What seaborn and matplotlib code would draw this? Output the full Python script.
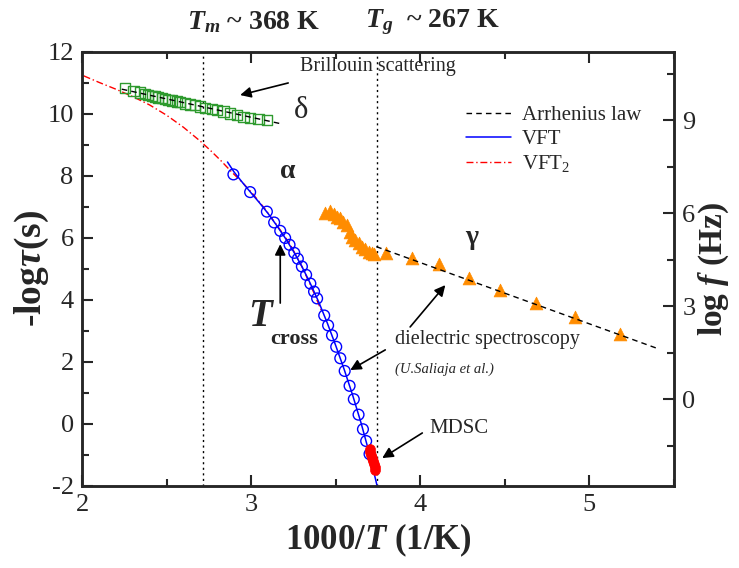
import numpy as np
import matplotlib
matplotlib.use("Agg")
import matplotlib.pyplot as plt
import seaborn as sns
from matplotlib.ticker import MultipleLocator
from matplotlib.lines import Line2D

# ---------------- data ----------------
# Brillouin scattering (delta relaxation), open green squares
delta_x = [2.254, 2.304, 2.343, 2.373, 2.392, 2.412, 2.432, 2.451, 2.471, 2.491,
           2.511, 2.530, 2.560, 2.580, 2.609, 2.639, 2.668, 2.698, 2.728, 2.767,
           2.797, 2.836, 2.876, 2.915, 2.955, 2.994, 3.043, 3.093]
delta_y = [10.83, 10.75, 10.69, 10.645, 10.61, 10.59, 10.56, 10.53, 10.51, 10.48,
           10.45, 10.43, 10.40, 10.38, 10.34, 10.31, 10.28, 10.24, 10.20, 10.16,
           10.13, 10.08, 10.02, 9.97, 9.91, 9.88, 9.84, 9.80]

# Dielectric spectroscopy alpha relaxation, open blue circles
alpha_x = [2.895, 2.994, 3.093, 3.136, 3.172, 3.201, 3.227, 3.255, 3.276, 3.300,
           3.325, 3.350, 3.372, 3.390, 3.432, 3.455, 3.478, 3.503, 3.527, 3.553,
           3.582, 3.607, 3.635, 3.661, 3.680, 3.700]
alpha_y = [8.05, 7.48, 6.85, 6.50, 6.23, 6.00, 5.78, 5.52, 5.33, 5.08,
           4.81, 4.53, 4.27, 4.05, 3.50, 3.18, 2.86, 2.49, 2.12, 1.71,
           1.23, 0.80, 0.30, -0.17, -0.55, -0.97]

# MDSC points, filled red circles
mdsc_x = [3.700, 3.705, 3.710, 3.715, 3.720, 3.725, 3.730, 3.735]
mdsc_y = [-0.80, -0.90, -1.00, -1.10, -1.20, -1.30, -1.40, -1.50]

# gamma relaxation, filled orange triangles
gamma_x = [3.438, 3.467, 3.487, 3.507, 3.527, 3.546, 3.566, 3.586, 3.596, 3.615,
           3.635, 3.655, 3.675, 3.694, 3.714, 3.728, 3.799, 3.950, 4.108, 4.290,
           4.473, 4.686, 4.917, 5.178]
gamma_y = [6.80, 6.86, 6.78, 6.69, 6.63, 6.53, 6.42, 6.20, 6.04, 5.95,
           5.83, 5.72, 5.63, 5.56, 5.50, 5.48, 5.50, 5.34, 5.16, 4.70,
           4.32, 3.90, 3.46, 2.90]

# fitted curves
vft_x = [2.86, 2.90, 2.95, 3.00, 3.05, 3.10, 3.15, 3.20, 3.25, 3.30, 3.35,
         3.40, 3.45, 3.50, 3.55, 3.60, 3.65, 3.70, 3.744]
vft_y = [8.45, 8.12, 7.78, 7.45, 7.13, 6.79, 6.41, 6.01, 5.57, 5.08, 4.53,
         3.93, 3.26, 2.53, 1.76, 0.93, 0.03, -0.97, -1.98]

vft2_x = [2.01, 2.10, 2.20, 2.30, 2.40, 2.50, 2.60, 2.70, 2.76, 2.82, 2.89,
          2.95, 3.01, 3.08, 3.16, 3.23, 3.30, 3.36, 3.42]
vft2_y = [11.23, 11.02, 10.80, 10.56, 10.29, 9.96, 9.57, 9.12, 8.82, 8.50, 8.10,
          7.78, 7.42, 6.95, 6.35, 5.80, 5.08, 4.37, 3.60]

arr_delta_x = [2.235, 3.18]
arr_delta_y = [10.80, 9.68]
arr_gamma_x = [3.74, 5.41]
arr_gamma_y = [5.72, 2.42]

Tm_x = 1000 / 368
Tg_x = 1000 / 267

legend_labels = ["Arrhenius law", "VFT", "VFT$_{2}$"]

# ---------------- style ----------------
sns.set_theme(style="ticks")
plt.rcParams['font.family'] = ['Liberation Serif', 'DejaVu Serif']
plt.rcParams['mathtext.fontset'] = 'custom'
plt.rcParams['mathtext.rm'] = 'Liberation Serif'
plt.rcParams['mathtext.it'] = 'Liberation Serif:italic'
plt.rcParams['mathtext.bf'] = 'Liberation Serif:bold'
plt.rcParams['mathtext.bfit'] = 'Liberation Serif:italic:bold'
plt.rcParams['axes.unicode_minus'] = False

fig = plt.figure(figsize=(7.39, 5.68), dpi=100)
ax = fig.add_axes([0.111, 0.1444, 0.801, 0.7641])

dash_a = (0, (4, 3))
dashdot = (0, (5, 2, 1, 2))

# vertical dotted lines
ax.axvline(Tm_x, color='black', lw=1, ls=(0, (1.5, 2.5)), zorder=1)
ax.axvline(Tg_x, color='black', lw=1, ls=(0, (1.5, 2.5)), zorder=1)

# fitted lines
sns.lineplot(x=vft2_x, y=vft2_y, ax=ax, color='red', lw=1, linestyle=dashdot,
             sort=False, estimator=None, zorder=2)
sns.lineplot(x=vft_x, y=vft_y, ax=ax, color='blue', lw=1.1,
             sort=False, estimator=None, zorder=2)

# data markers
sns.scatterplot(x=alpha_x, y=alpha_y, ax=ax, marker='o', s=60, color='blue',
                facecolor='none', edgecolor='blue', linewidth=1.0, zorder=3)
sns.scatterplot(x=mdsc_x, y=mdsc_y, ax=ax, marker='o', s=50, color='red',
                edgecolor='red', linewidth=0.5, zorder=3)
sns.scatterplot(x=delta_x, y=delta_y, ax=ax, marker='s', s=55, color='#2ca02c',
                facecolor='none', edgecolor='#2e9a2e', linewidth=1.0, zorder=3)
sns.scatterplot(x=gamma_x, y=gamma_y, ax=ax, marker='^', s=85, color='#ff8c00',
                edgecolor='#ff8c00', linewidth=0.5, zorder=3)

# Arrhenius lines
sns.lineplot(x=arr_delta_x, y=arr_delta_y, ax=ax, color='black', lw=1, linestyle=dash_a,
             sort=False, estimator=None, zorder=4)
sns.lineplot(x=arr_gamma_x, y=arr_gamma_y, ax=ax, color='black', lw=1, linestyle=dash_a,
             sort=False, estimator=None, zorder=4)

ax.set_xlim(2, 5.5)
ax.set_ylim(-2, 12)
ax.xaxis.set_major_locator(MultipleLocator(1))
ax.xaxis.set_minor_locator(MultipleLocator(0.5))
ax.yaxis.set_major_locator(MultipleLocator(2))
ax.yaxis.set_minor_locator(MultipleLocator(1))
ax.tick_params(which='both', direction='in', top=True, right=False, width=1.5)
ax.tick_params(which='major', length=8, labelsize=19, pad=6)
ax.tick_params(which='minor', length=5)
for sp in ax.spines.values():
    sp.set_linewidth(1.8)
    sp.set_visible(True)

ax.set_xlabel(r'1000/$\mathbfit{T}$ (1/K)', fontsize=25, fontweight='bold', labelpad=4)
ax.set_ylabel(r'-log$\mathbfit{\tau}$(s)', fontsize=27, fontweight='bold', labelpad=-3)

# right axis: log f = -log tau - log(2 pi)
ax2 = ax.twinx()
off = np.log10(2 * np.pi)
ax2.set_ylim(-2 - off, 12 - off)
ax2.yaxis.set_major_locator(MultipleLocator(3))
ax2.yaxis.set_minor_locator(MultipleLocator(1.5))
ax2.tick_params(which='both', direction='in', width=1.5)
ax2.tick_params(which='major', length=8, labelsize=19, pad=6)
ax2.tick_params(which='minor', length=5)
for sp in ax2.spines.values():
    sp.set_linewidth(1.8)
ax2.set_ylabel(r'log $\mathbfit{f}$ (Hz)', fontsize=24, fontweight='bold', labelpad=1)

# legend
handles = [Line2D([], [], color='black', lw=1, ls=dash_a),
           Line2D([], [], color='blue', lw=1.1),
           Line2D([], [], color='red', lw=1, ls=dashdot)]
ax.legend(handles, legend_labels, loc='upper left', bbox_to_anchor=(0.634, 0.895),
          frameon=False, fontsize=15, handlelength=2.2, labelspacing=0.2,
          handletextpad=0.5, borderaxespad=0)

# annotations
ax.text(3.012, 12.97, r'$\mathbfit{T}_{\mathbfit{m}}$ ~ 368 K', fontsize=20, fontweight='bold',
        ha='center', va='center', clip_on=False)
ax.text(4.07, 12.97, r'$\mathbfit{T}_{\mathbfit{g}}$  ~ 267 K', fontsize=20, fontweight='bold',
        ha='center', va='center', clip_on=False)
ax.text(3.75, 11.52, 'Brillouin scattering', fontsize=14.5, ha='center', va='center')
ax.text(3.29, 10.10, r'$\mathregular{\delta}$', fontsize=22, ha='center', va='center')
ax.text(3.213, 8.13, r'$\mathbf{\alpha}$', fontsize=20, ha='center', va='center')
ax.text(4.31, 5.94, r'$\mathbf{\gamma}$', fontsize=20, ha='center', va='center')
ax.text(3.059, 3.48, r'$\mathbfit{T}$', fontsize=28, ha='center', va='center')
ax.text(3.254, 2.74, 'cross', fontsize=16, fontweight='bold', ha='center', va='center')
ax.text(4.40, 2.71, 'dielectric spectroscopy', fontsize=14.5, ha='center', va='center')
ax.text(4.14, 1.77, '(U.Saliaja et al.)', fontsize=10.5, style='italic', ha='center', va='center')
ax.text(4.23, -0.13, 'MDSC', fontsize=15, ha='center', va='center')

arrow = dict(arrowstyle='-|>', color='black', lw=1.2, mutation_scale=16, shrinkA=0, shrinkB=0)
ax.annotate('', xy=(2.935, 10.61), xytext=(3.219, 11.0), arrowprops=arrow)
ax.annotate('', xy=(3.172, 5.80), xytext=(3.172, 3.90), arrowprops=arrow)
ax.annotate('', xy=(4.148, 4.48), xytext=(3.94, 3.13), arrowprops=arrow)
ax.annotate('', xy=(3.586, 1.74), xytext=(3.793, 2.39), arrowprops=arrow)
ax.annotate('', xy=(3.775, -1.10), xytext=(4.012, -0.29), arrowprops=arrow)

fig.savefig('out.png', dpi=100)
